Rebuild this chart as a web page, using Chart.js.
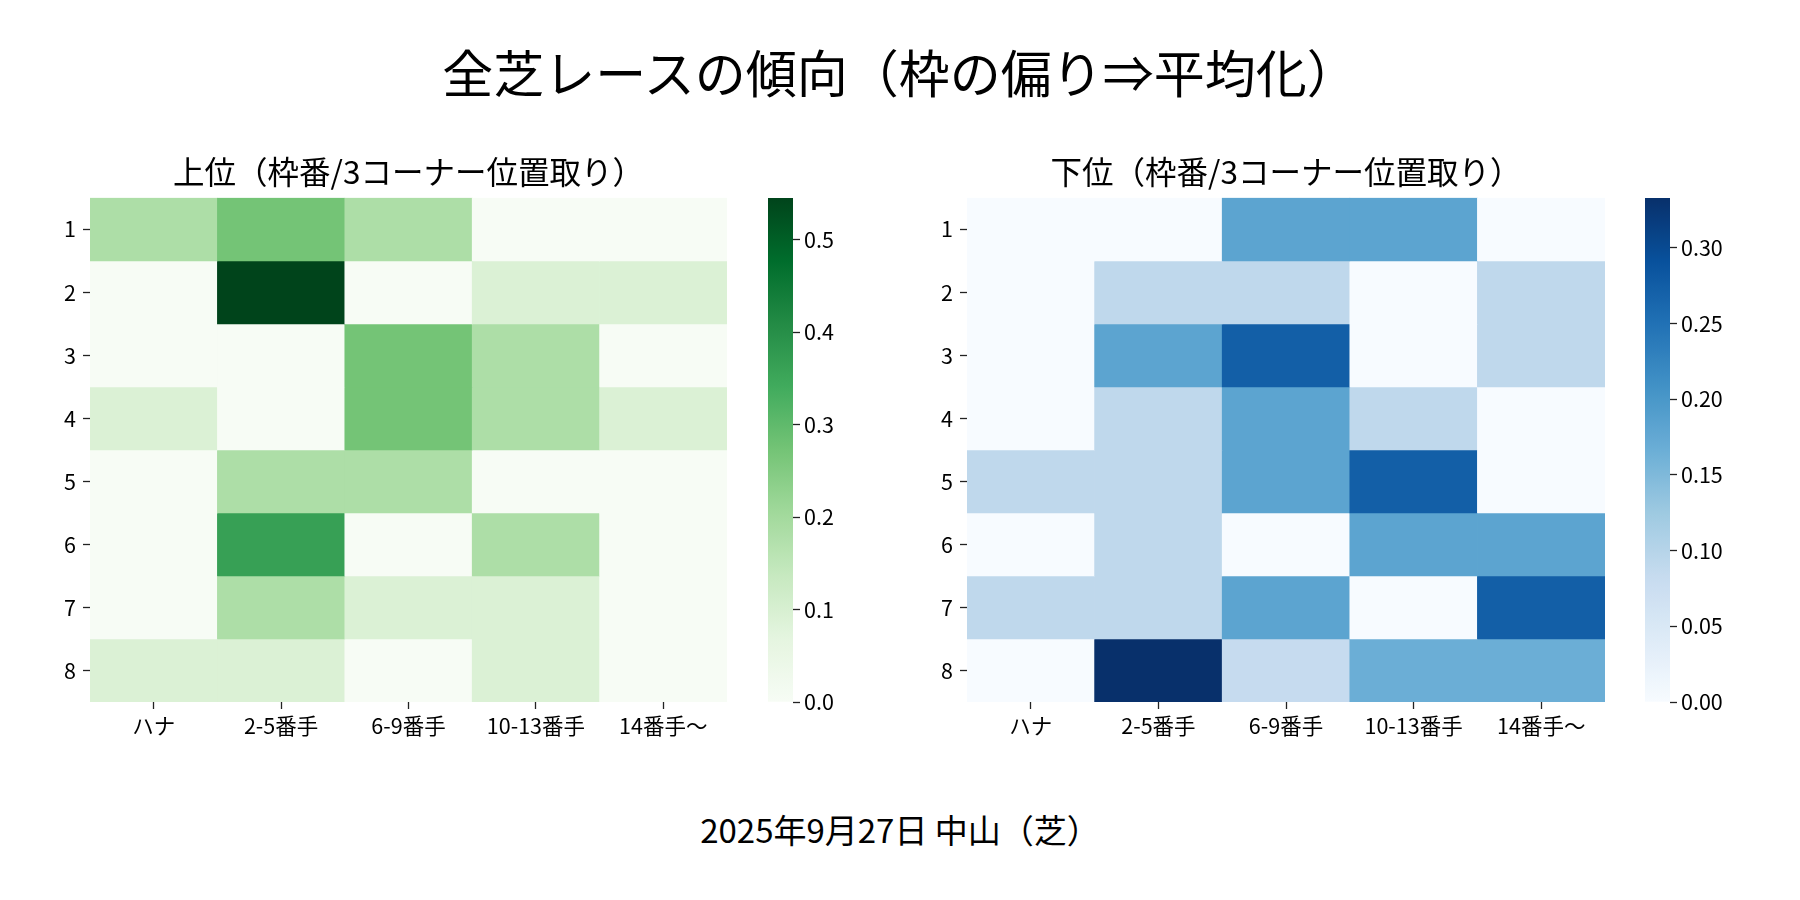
<!DOCTYPE html>
<html lang="ja">
<head>
  <meta charset="UTF-8" />
  <title>全芝レースの傾向</title>
  <script src="https://cdn.jsdelivr.net/npm/chart.js"></script>
  <style>
    body { margin: 0; background: #fff; font-family: "Noto Sans CJK JP", sans-serif; }
    #page { position: relative; width: 1800px; height: 900px; overflow: hidden; }
    .txt { position: absolute; left: 0; width: 1800px; text-align: center; color: #000; line-height: 1; white-space: nowrap; }
    canvas { position: absolute; }
  </style>
</head>
<body>
<div id="page">
  <div class="txt" id="mainTitle" style="top:46px; font-size:51px;">全芝レースの傾向（枠の偏り⇒平均化）</div>
  <canvas id="upperHeat" style="left:40px; top:150px;" width="697" height="607"></canvas>
  <canvas id="upperBar" style="left:768px; top:178px;" width="85" height="544"></canvas>
  <canvas id="lowerHeat" style="left:917px; top:150px;" width="698" height="607"></canvas>
  <canvas id="lowerBar" style="left:1645px; top:178px;" width="100" height="544"></canvas>
  <div class="txt" id="footer" style="top:813px; font-size:33px;">2025年9月27日 中山（芝）</div>
</div>

<script>
  // data
  const colLabels = ['ハナ', '2-5番手', '6-9番手', '10-13番手', '14番手〜'];
  const rowLabels = ['1', '2', '3', '4', '5', '6', '7', '8'];

  // 上位
  const upperValues = [
    [0.182, 0.273, 0.182, 0.000, 0.000],
    [0.000, 0.545, 0.000, 0.091, 0.091],
    [0.000, 0.000, 0.273, 0.182, 0.000],
    [0.091, 0.000, 0.273, 0.182, 0.091],
    [0.000, 0.182, 0.182, 0.000, 0.000],
    [0.000, 0.364, 0.000, 0.182, 0.000],
    [0.000, 0.182, 0.091, 0.091, 0.000],
    [0.091, 0.091, 0.000, 0.091, 0.000]
  ];
  const upperMax = 0.545;
  const upperBarTicks = [0, 0.1, 0.2, 0.3, 0.4, 0.5];

  // 下位
  const lowerValues = [
    [0.000, 0.000, 0.182, 0.182, 0.000],
    [0.000, 0.091, 0.091, 0.000, 0.091],
    [0.000, 0.182, 0.273, 0.000, 0.091],
    [0.000, 0.091, 0.182, 0.091, 0.000],
    [0.091, 0.091, 0.182, 0.273, 0.000],
    [0.000, 0.091, 0.000, 0.182, 0.182],
    [0.091, 0.091, 0.182, 0.000, 0.273],
    [0.000, 0.333, 0.083, 0.167, 0.167]
  ];
  const lowerMax = 0.333;
  const lowerBarTicks = [0, 0.05, 0.10, 0.15, 0.20, 0.25, 0.30];

  const greens = ['#f7fcf5', '#e5f5e0', '#c7e9c0', '#a1d99b', '#74c476', '#41ab5d', '#238b45', '#006d2c', '#00441b'];
  const blues  = ['#f7fbff', '#deebf7', '#c6dbef', '#9ecae1', '#6baed6', '#4292c6', '#2171b5', '#08519c', '#08306b'];

  const FONT = '"Noto Sans CJK JP", sans-serif';
  const TICK_SIZE = 21.5;
  Chart.defaults.font.family = FONT;
  Chart.defaults.color = '#000';

  function hexToRgb(h) {
    return [parseInt(h.slice(1, 3), 16), parseInt(h.slice(3, 5), 16), parseInt(h.slice(5, 7), 16)];
  }

  function cmap(stops, t) {
    t = Math.max(0, Math.min(1, t));
    const pos = t * (stops.length - 1);
    const i = Math.min(Math.floor(pos), stops.length - 2);
    const f = pos - i;
    const a = hexToRgb(stops[i]), b = hexToRgb(stops[i + 1]);
    const c = a.map((v, k) => Math.round(v + (b[k] - v) * f));
    return `rgb(${c[0]}, ${c[1]}, ${c[2]})`;
  }

  const tickGrid = { drawOnChartArea: false, drawTicks: true, tickLength: 7, tickWidth: 1.3, color: '#222' };

  function makeHeatmap(id, title, values, vmax, stops) {
    const datasets = values.map((row, r) => ({
      data: row.map(() => [r + 0.5, r + 1.5]),
      backgroundColor: row.map(v => cmap(stops, v / vmax)),
      borderWidth: 0,
      borderSkipped: false,
      grouped: false,
      barPercentage: 1,
      categoryPercentage: 1
    }));

    return new Chart(document.getElementById(id), {
      type: 'bar',
      data: { labels: colLabels, datasets: datasets },
      options: {
        responsive: false,
        animation: false,
        devicePixelRatio: 1,
        layout: { padding: { left: 0, right: 10, top: 0, bottom: 0 } },
        plugins: {
          legend: { display: false },
          tooltip: { enabled: false },
          title: {
            display: true,
            text: title,
            fullSize: false,
            font: { size: 31.5, weight: 'normal', family: FONT, lineHeight: 1.2 },
            color: '#000',
            padding: { top: 3, bottom: 7 }
          }
        },
        scales: {
          x: {
            type: 'category',
            grid: Object.assign({ offset: false }, tickGrid),
            border: { display: false },
            ticks: { font: { size: TICK_SIZE }, padding: 4, maxRotation: 0 },
            afterFit: s => { s.height = 55; }
          },
          y: {
            type: 'linear',
            min: 0.5,
            max: 8.5,
            reverse: true,
            grid: tickGrid,
            border: { display: false },
            afterBuildTicks: s => { s.ticks = rowLabels.map((_, i) => ({ value: i + 1 })); },
            ticks: { font: { size: TICK_SIZE }, padding: 7, callback: v => rowLabels[v - 1] },
            afterFit: s => { s.width = 50; }
          }
        }
      }
    });
  }

  function makeColorbar(id, vmax, stops, ticks, digits) {
    return new Chart(document.getElementById(id), {
      type: 'bar',
      data: {
        labels: [''],
        datasets: [{
          data: [[0, vmax]],
          borderWidth: 0,
          borderSkipped: false,
          barPercentage: 1,
          categoryPercentage: 1,
          backgroundColor: ctx => {
            const area = ctx.chart.chartArea;
            if (!area) return stops[0];
            const g = ctx.chart.ctx.createLinearGradient(0, area.bottom, 0, area.top);
            for (let i = 0; i <= 40; i++) g.addColorStop(i / 40, cmap(stops, i / 40));
            return g;
          }
        }]
      },
      options: {
        responsive: false,
        animation: false,
        devicePixelRatio: 1,
        layout: { padding: { left: 0, right: 0, top: 20, bottom: 20 } },
        plugins: { legend: { display: false }, tooltip: { enabled: false } },
        scales: {
          x: { display: false },
          y: {
            position: 'right',
            min: 0,
            max: vmax,
            grid: tickGrid,
            border: { display: false },
            afterBuildTicks: s => { s.ticks = ticks.map(v => ({ value: v })); },
            ticks: { font: { size: TICK_SIZE }, padding: 4, callback: v => Number(v).toFixed(digits) },
            afterFit: s => { s.width = id === 'upperBar' ? 60 : 75; }
          }
        }
      }
    });
  }

  makeHeatmap('upperHeat', '上位（枠番/3コーナー位置取り）', upperValues, upperMax, greens);
  makeColorbar('upperBar', upperMax, greens, upperBarTicks, 1);
  makeHeatmap('lowerHeat', '下位（枠番/3コーナー位置取り）', lowerValues, lowerMax, blues);
  makeColorbar('lowerBar', lowerMax, blues, lowerBarTicks, 2);
</script>
</body>
</html>
